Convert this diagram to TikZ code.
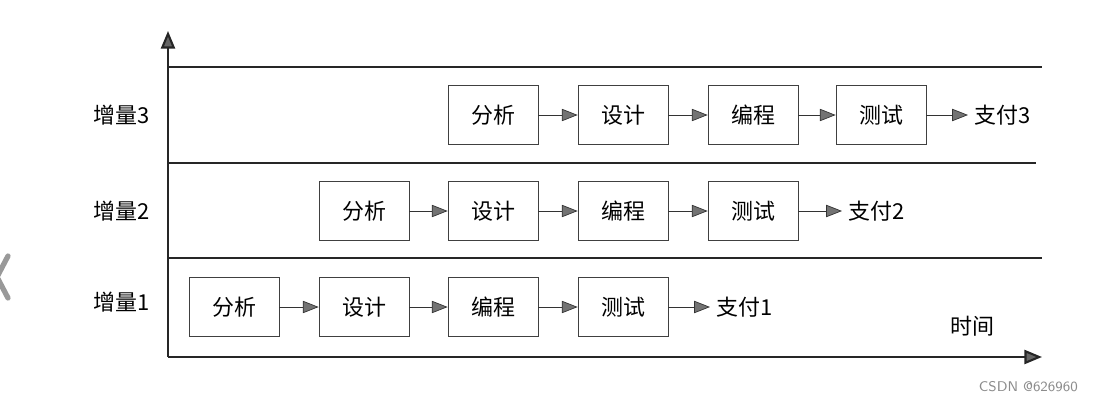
\documentclass[tikz,border=0pt]{standalone}
\usepackage{fontspec}
\newfontfamily\cjk{Noto Sans CJK SC}
\usepackage{tikz}
\usetikzlibrary{arrows.meta}

\begin{document}
\begin{tikzpicture}[x=0.02cm,y=-0.02cm,
  stage/.style={draw=black!75,thin,minimum width=1.8cm,minimum height=1.18cm,inner sep=0pt,font=\cjk\fontsize{12.5}{14}\selectfont},
  rowlabel/.style={font=\cjk\fontsize{12.5}{14}\selectfont},
  flow/.style={draw=black!80,thin,-{Triangle[length=9pt,width=7pt,fill=black!55]}},
  axis/.style={draw=black!85,line width=1.2pt,-{Triangle[length=10pt,width=8pt,fill=black!60]}}]
\useasboundingbox (0,0) rectangle (1096,403);
\coordinate (o) at (168,357);
\coordinate (ytop) at (168,31);
\coordinate (xend) at (1042,357);
\coordinate (l3a) at (168,67);
\coordinate (l3b) at (1042,67);
\coordinate (l2a) at (168,163);
\coordinate (l2b) at (1036,163);
\coordinate (l1a) at (168,258);
\coordinate (l1b) at (1042,258);
% draws axes and row lines
\draw[axis] (o) to (ytop);
\draw[axis] (o) to (xend);
\draw[black!85,line width=1pt] (l3a) to (l3b);
\draw[black!85,line width=1pt] (l2a) to (l2b);
\draw[black!85,line width=1pt] (l1a) to (l1b);
% labels rows and axis
\node[rowlabel] (inc3) at (122,115) {增量3};
\node[rowlabel] (inc2) at (122,211) {增量2};
\node[rowlabel] (inc1) at (122,302) {增量1};
\node[rowlabel] (time) at (972,326) {时间};
% draws increment 3
\node[stage] (a3) at (493,115) {分析};
\node[stage] (b3) at (623,115) {设计};
\node[stage] (c3) at (753,115) {编程};
\node[stage] (d3) at (881,115) {测试};
\node[rowlabel,anchor=west] (e3) at (968,115) {支付3};
% draws increment 2
\node[stage] (a2) at (364,211) {分析};
\node[stage] (b2) at (493,211) {设计};
\node[stage] (c2) at (623,211) {编程};
\node[stage] (d2) at (753,211) {测试};
\node[rowlabel,anchor=west] (e2) at (842,211) {支付2};
% draws increment 1
\node[stage] (a1) at (234,307) {分析};
\node[stage] (b1) at (364,307) {设计};
\node[stage] (c1) at (493,307) {编程};
\node[stage] (d1) at (623,307) {测试};
\node[rowlabel,anchor=west] (e1) at (710,307) {支付1};
% draws arrows
\draw[flow] (a3) to (b3);
\draw[flow] (b3) to (c3);
\draw[flow] (c3) to (d3);
\draw[flow] (d3) to (e3);
\draw[flow] (a2) to (b2);
\draw[flow] (b2) to (c2);
\draw[flow] (c2) to (d2);
\draw[flow] (d2) to (e2);
\draw[flow] (a1) to (b1);
\draw[flow] (b1) to (c1);
\draw[flow] (c1) to (d1);
\draw[flow] (d1) to (e1);
% page marks
\draw[black!40,line width=3pt,line cap=round] (8,256) -- (-3,277) -- (8,298);
\node[font=\sffamily\fontsize{8}{9}\selectfont,text=black!45,anchor=east] (mark) at (1084,387) {CSDN @626960};
\end{tikzpicture}
\end{document}
